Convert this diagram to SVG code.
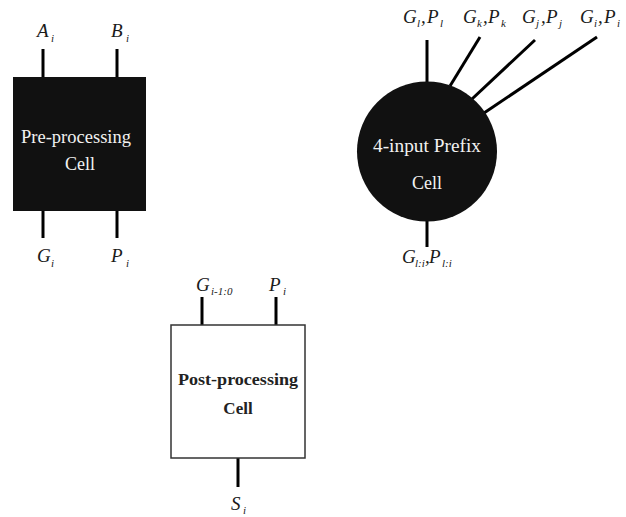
<svg xmlns="http://www.w3.org/2000/svg" width="626" height="517" viewBox="0 0 626 517">
<style>
.wire{stroke:#000;stroke-width:3;fill:none}
.lbl{font-family:"Liberation Serif","DejaVu Serif",serif;font-style:italic;font-size:19px;fill:#1a1a1a}
.sub{font-size:11px}
.body{font-family:"Liberation Serif","DejaVu Serif",serif;font-size:18px;text-anchor:middle}
.bold{font-family:"Liberation Serif","DejaVu Serif",serif;font-size:17px;font-weight:bold;text-anchor:middle;fill:#222}
</style>
<rect width="626" height="517" fill="#fff"/>
<g id="connectors">
<line class="wire" x1="43" y1="49" x2="43" y2="78"/>
<line class="wire" x1="117" y1="49" x2="117" y2="78"/>
<line class="wire" x1="43" y1="210" x2="43" y2="238"/>
<line class="wire" x1="117" y1="210" x2="117" y2="238"/>
<line class="wire" x1="427" y1="40" x2="427" y2="83"/>
<line class="wire" x1="480" y1="37" x2="450" y2="86"/>
<line class="wire" x1="535" y1="40" x2="472" y2="99"/>
<line class="wire" x1="597" y1="37" x2="484" y2="113"/>
<line class="wire" x1="427" y1="220" x2="427" y2="247"/>
<line class="wire" x1="202" y1="297" x2="202" y2="326"/>
<line class="wire" x1="276" y1="297" x2="276" y2="326"/>
<line class="wire" x1="238" y1="457" x2="238" y2="487"/>
</g>
<g id="pre">
<rect x="13" y="77" width="133" height="134" fill="#111"/>
<text class="body" x="76" y="143" fill="#f2f2f2" textLength="110" lengthAdjust="spacingAndGlyphs">Pre-processing</text>
<text class="body" x="80" y="170" fill="#f2f2f2">Cell</text>
<text class="lbl" x="37" y="37">A<tspan class="sub" x="51" dy="5">i</tspan></text>
<text class="lbl" x="111" y="37">B<tspan class="sub" x="126" dy="5">i</tspan></text>
<text class="lbl" x="37" y="262">G<tspan class="sub" x="51" dy="5">i</tspan></text>
<text class="lbl" x="111" y="262">P<tspan class="sub" x="126" dy="5">i</tspan></text>
</g>
<g id="prefix">
<circle cx="427" cy="151.5" r="70" fill="#111"/>
<text class="body" x="427" y="152" fill="#f2f2f2" textLength="108" lengthAdjust="spacingAndGlyphs">4-input Prefix</text>
<text class="body" x="427" y="189" fill="#f2f2f2">Cell</text>
<text class="lbl" x="403" y="23">G<tspan class="sub" x="417" dy="4">l</tspan><tspan x="421" dy="-4">,</tspan><tspan x="427">P</tspan><tspan class="sub" x="440" dy="4">l</tspan></text>
<text class="lbl" x="463" y="23">G<tspan class="sub" x="477" dy="4">k</tspan><tspan x="483" dy="-4">,</tspan><tspan x="488">P</tspan><tspan class="sub" x="501" dy="4">k</tspan></text>
<text class="lbl" x="522" y="23">G<tspan class="sub" x="536" dy="4">j</tspan><tspan x="541" dy="-4">,</tspan><tspan x="546">P</tspan><tspan class="sub" x="559" dy="4">j</tspan></text>
<text class="lbl" x="580" y="23">G<tspan class="sub" x="594" dy="4">i</tspan><tspan x="598" dy="-4">,</tspan><tspan x="604">P</tspan><tspan class="sub" x="617" dy="4">i</tspan></text>
<text class="lbl" x="402" y="263">G<tspan class="sub" x="415" dy="4" font-size="10">l:i</tspan><tspan x="425" dy="-4">,</tspan><tspan x="429">P</tspan><tspan class="sub" x="442" dy="4" font-size="10">l:i</tspan></text>
</g>
<g id="post">
<rect x="171" y="325" width="134" height="133" fill="#fff" stroke="#333" stroke-width="1.5"/>
<text class="bold" x="238" y="385" textLength="120" lengthAdjust="spacingAndGlyphs">Post-processing</text>
<text class="bold" x="238" y="414">Cell</text>
<text class="lbl" x="196" y="291">G<tspan class="sub" x="211" dy="4">i-1:0</tspan></text>
<text class="lbl" x="269" y="291">P<tspan class="sub" x="283" dy="4">i</tspan></text>
<text class="lbl" x="231" y="510">S<tspan class="sub" x="243" dy="4">i</tspan></text>
</g>
</svg>
